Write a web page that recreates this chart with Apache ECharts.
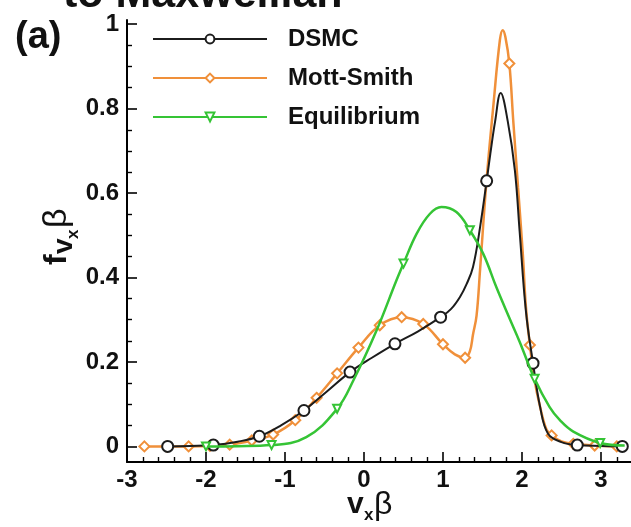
<!DOCTYPE html>
<html><head><meta charset="utf-8">
<script src="https://cdn.jsdelivr.net/npm/echarts@6/dist/echarts.min.js"></script>
<style>html,body{margin:0;padding:0;background:#fff}#c{width:631px;height:527px}</style>
</head><body><div id="c"></div>
<script>
const FONT = '"Liberation Sans", Arial, Helvetica, sans-serif';

// tick values
const xTicks = [-3, -2, -1, 0, 1, 2, 3];
const xMinorTicks = [-2.8, -2.6, -2.4, -2.2, -1.8, -1.6, -1.4, -1.2, -0.8, -0.6, -0.4, -0.2,
  0.2, 0.4, 0.6, 0.8, 1.2, 1.4, 1.6, 1.8, 2.2, 2.4, 2.6, 2.8, 3.2];
const yTicks = [0, 0.2, 0.4, 0.6, 0.8, 1];
const yMinorTicks = [0.05, 0.1, 0.15, 0.25, 0.3, 0.35, 0.45, 0.5, 0.55, 0.65, 0.7, 0.75, 0.85, 0.9, 0.95];

// legend names
const seriesNames = ['DSMC', 'Mott-Smith', 'Equilibrium'];

// DSMC
const dsmcX = [-2.485, -2.2, -1.907, -1.6, -1.325, -1.05, -0.76, -0.47, -0.177, 0.1, 0.392, 0.68, 0.97, 1.1, 1.215, 1.3, 1.38, 1.47, 1.553, 1.6, 1.66, 1.73, 1.82, 1.91, 1.97, 2.05, 2.14, 2.23, 2.33, 2.5, 2.7, 3.0, 3.27];
const dsmcY = [0, 0.001, 0.003, 0.011, 0.024, 0.05, 0.085, 0.13, 0.176, 0.21, 0.243, 0.272, 0.306, 0.325, 0.354, 0.385, 0.425, 0.52, 0.629, 0.694, 0.77, 0.837, 0.77, 0.654, 0.51, 0.32, 0.197, 0.093, 0.03, 0.01, 0.003, 0.001, 0];
const dsmcMarkX = [-2.485, -1.907, -1.325, -0.76, -0.177, 0.392, 0.97, 1.553, 2.14, 2.7, 3.27];

// Mott-Smith
const msX = [-2.78, -2.5, -2.22, -1.95, -1.70, -1.42, -1.15, -0.87, -0.6, -0.34, -0.07, 0.2, 0.477, 0.75, 1.0, 1.15, 1.28, 1.34, 1.38, 1.425, 1.47, 1.55, 1.64, 1.72, 1.756, 1.79, 1.84, 1.89, 1.95, 2.01, 2.05, 2.1, 2.16, 2.23, 2.31, 2.375, 2.5, 2.65, 2.92, 3.2];
const msY = [0, 0, 0, 0.001, 0.004, 0.014, 0.028, 0.062, 0.115, 0.173, 0.234, 0.287, 0.306, 0.29, 0.242, 0.218, 0.21, 0.225, 0.265, 0.31, 0.42, 0.627, 0.812, 0.962, 0.986, 0.97, 0.907, 0.77, 0.614, 0.457, 0.33, 0.24, 0.156, 0.093, 0.04, 0.026, 0.012, 0.006, 0.002, 0];
const msMarkX = [-2.78, -2.5, -2.22, -1.95, -1.70, -1.42, -1.15, -0.87, -0.6, -0.34, -0.07, 0.2, 0.477, 0.75, 1.0, 1.28, 1.55, 1.84, 2.1, 2.375, 2.65, 2.92, 3.2];

// Equilibrium
const eqX = [-2.0, -1.6, -1.17, -0.73, -0.34, -0.135, 0.16, 0.41, 0.5, 0.667, 0.835, 0.98, 1.17, 1.34, 1.51, 1.68, 1.85, 1.97, 2.16, 2.35, 2.48, 2.65, 2.99, 3.3];
const eqY = [0, 0.0005, 0.003, 0.022, 0.089, 0.156, 0.275, 0.393, 0.433, 0.504, 0.551, 0.567, 0.555, 0.512, 0.456, 0.375, 0.3, 0.248, 0.16, 0.093, 0.062, 0.035, 0.008, 0.002];
const eqMarkX = [-2.0, -1.17, -0.34, 0.5, 1.34, 2.16, 2.99];

function build(xs, ys, marks, sym) {
  return xs.map((x, i) => ({ value: [x, ys[i]], symbol: marks.includes(x) ? sym : 'none' }));
}

const chart = echarts.init(document.getElementById('c'), null, { renderer: 'canvas' });

const labelStyle = { color: '#111', fontSize: 24, fontWeight: 'bold', fontFamily: FONT };
const legendBase = {
  orient: 'vertical', left: 152, itemWidth: 114, itemHeight: 11, padding: 0,
  selectedMode: false,
  textStyle: { color: '#111', fontSize: 24, fontWeight: 'bold', fontFamily: FONT, padding: [0, 0, 0, 16] }
};

const option = {
  animation: false,
  backgroundColor: '#fff',
  grid: { left: 127, right: 0, top: 20, bottom: 65 },
  xAxis: [
    {
      type: 'value', min: -3, max: 3.38,
      axisLine: { onZero: false, lineStyle: { color: '#000', width: 2 } },
      axisTick: { inside: true, length: 10, customValues: xTicks, lineStyle: { color: '#000', width: 1.6 } },
      axisLabel: Object.assign({ customValues: xTicks, margin: 6, formatter: v => String(v) }, labelStyle),
      splitLine: { show: false }
    },
    {
      type: 'value', min: -3, max: 3.38, position: 'bottom',
      axisLine: { show: false, onZero: false },
      axisTick: { inside: true, length: 5, customValues: xMinorTicks, lineStyle: { color: '#000', width: 1.4 } },
      axisLabel: { show: false },
      splitLine: { show: false }
    }
  ],
  yAxis: [
    {
      type: 'value', min: -0.037, max: 1.01,
      axisLine: { show: true, onZero: false, lineStyle: { color: '#000', width: 2 } },
      axisTick: { show: true, inside: true, length: 10, customValues: yTicks, lineStyle: { color: '#000', width: 1.6 } },
      axisLabel: Object.assign({ customValues: yTicks, margin: 8, formatter: v => String(v) }, labelStyle),
      splitLine: { show: false }
    },
    {
      type: 'value', min: -0.037, max: 1.01, position: 'left',
      axisLine: { show: false, onZero: false },
      axisTick: { show: true, inside: true, length: 5, customValues: yMinorTicks, lineStyle: { color: '#000', width: 1.4 } },
      axisLabel: { show: false },
      splitLine: { show: false }
    }
  ],
  legend: [
    Object.assign({ data: [seriesNames[0]], top: 27 }, legendBase),
    Object.assign({ data: [seriesNames[1]], top: 66 }, legendBase),
    Object.assign({ data: [seriesNames[2]], top: 105 }, legendBase)
  ],
  series: [
    {
      name: seriesNames[1], type: 'line', smooth: 0.4,
      symbol: 'emptyDiamond', symbolSize: 10, showAllSymbol: true,
      data: build(msX, msY, msMarkX, 'emptyDiamond'),
      lineStyle: { color: '#F0903A', width: 2.5 },
      itemStyle: { color: '#F0903A', borderColor: '#F0903A', borderWidth: 1.5 },
      z: 2
    },
    {
      name: seriesNames[0], type: 'line', smooth: 0.4,
      symbol: 'emptyCircle', symbolSize: 11, showAllSymbol: true,
      data: build(dsmcX, dsmcY, dsmcMarkX, 'emptyCircle'),
      lineStyle: { color: '#1c1c1c', width: 2 },
      itemStyle: { color: '#1c1c1c', borderColor: '#1c1c1c', borderWidth: 1.6 },
      z: 3
    },
    {
      name: seriesNames[2], type: 'line', smooth: 0.4,
      symbol: 'emptyTriangle', symbolRotate: 180, symbolSize: 8, showAllSymbol: true,
      data: build(eqX, eqY, eqMarkX, 'emptyTriangle'),
      lineStyle: { color: '#35C435', width: 2.5 },
      itemStyle: { color: '#35C435', borderColor: '#35C435', borderWidth: 1.5 },
      z: 4
    }
  ],
  graphic: [
    { type: 'text', left: 15, top: 19, style: { text: '(a)', font: 'bold 38px ' + FONT, fill: '#111' } },
    { type: 'text', x: 63, y: -5, style: { text: 'to Maxwellian', font: 'bold 43px ' + FONT, fill: '#111', verticalAlign: 'middle', align: 'left' } },
    {
      type: 'group', x: 57, y: 232, rotation: Math.PI / 2,
      children: [
        { type: 'text', x: -33, y: 0, style: { text: 'f', font: 'bold 32px ' + FONT, fill: '#111', verticalAlign: 'middle' } },
        { type: 'text', x: -22, y: 7, style: { text: 'v', font: 'bold 28px ' + FONT, fill: '#111', verticalAlign: 'middle' } },
        { type: 'text', x: -7, y: 16, style: { text: 'x', font: 'bold 17px ' + FONT, fill: '#111', verticalAlign: 'middle' } },
        { type: 'text', x: 4, y: 0, style: { text: 'β', font: '34px ' + FONT, fill: '#111', verticalAlign: 'middle' } }
      ]
    },
    {
      type: 'group', x: 372, y: 505,
      children: [
        { type: 'text', x: -25, y: 0, style: { text: 'v', font: 'bold 30px ' + FONT, fill: '#111', verticalAlign: 'middle' } },
        { type: 'text', x: -8, y: 10, style: { text: 'x', font: 'bold 17px ' + FONT, fill: '#111', verticalAlign: 'middle' } },
        { type: 'text', x: 2, y: 0, style: { text: 'β', font: '32px ' + FONT, fill: '#111', verticalAlign: 'middle' } }
      ]
    }
  ]
};
chart.setOption(option);
</script>
</body></html>
